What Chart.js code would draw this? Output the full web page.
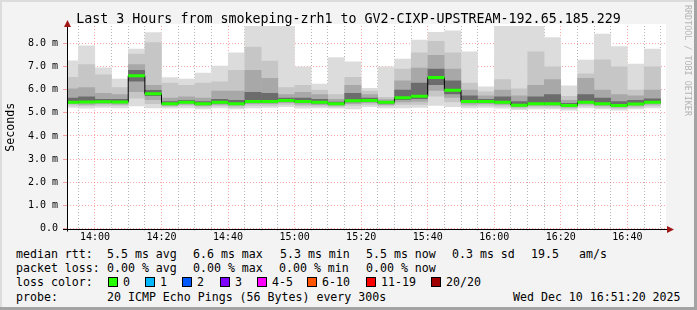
<!DOCTYPE html>
<html>
<head>
<meta charset="utf-8">
<script src="https://cdn.jsdelivr.net/npm/chart.js@4/dist/chart.umd.min.js"></script>
<style>
  body { margin: 0; }
  #frame {
    position: relative; width: 697px; height: 310px; overflow: hidden;
    background: #f3f3f3;
    box-shadow: inset -3px -3px 0 #a3a3a3, inset 2px 2px 0 #dcdcdc;
    font-family: "DejaVu Sans Mono", monospace; color: #000;
  }
  #plot { position: absolute; left: 0; top: 0; width: 697px; height: 246px; }
  .t { position: absolute; font-size: 11.6px; line-height: 14px; white-space: pre; }
  .box { position: absolute; width: 8px; height: 8px; border: 1px solid #000; }
  #title { position: absolute; left: 0; width: 697px; top: 11px; text-align: center; font-size: 13.3px; line-height: 16px; white-space: pre; }
  #rrd { position: absolute; left: 683px; top: 5px; writing-mode: vertical-rl; font-size: 8.4px; color: #b4b4b4; white-space: pre; }
</style>
</head>
<body>
<div id="frame">
  <div id="plot"><canvas id="chart"></canvas></div>
  <div id="title">Last 3 Hours from smokeping-zrh1 to GV2-CIXP-UPSTREAM-192.65.185.229</div>
  <div id="rrd">RRDTOOL / TOBI OETIKER</div>

  <span class="t" style="left:16px;top:247px">median rtt:</span>
  <span class="t" style="left:107px;top:247px">5.5 ms avg</span>
  <span class="t" style="left:193px;top:247px">6.6 ms max</span>
  <span class="t" style="left:280px;top:247px">5.3 ms min</span>
  <span class="t" style="left:366px;top:247px">5.5 ms now</span>
  <span class="t" style="left:452px;top:247px">0.3 ms sd</span>
  <span class="t" style="left:531px;top:247px">19.5</span>
  <span class="t" style="left:579px;top:247px">am/s</span>

  <span class="t" style="left:16px;top:261px">packet loss:</span>
  <span class="t" style="left:107px;top:261px">0.00 % avg</span>
  <span class="t" style="left:193px;top:261px">0.00 % max</span>
  <span class="t" style="left:279px;top:261px">0.00 % min</span>
  <span class="t" style="left:366px;top:261px">0.00 % now</span>

  <span class="t" style="left:16px;top:275px">loss color:</span>
  <div id="lossLegend"></div>

  <span class="t" style="left:16px;top:290px">probe:</span>
  <span class="t" style="left:107px;top:290px">20 ICMP Echo Pings (56 Bytes) every 300s</span>
  <span class="t" style="left:513px;top:290px">Wed Dec 10 16:51:20 2025</span>
</div>
<script>
// 5-minute slots (start time of each slot)
const slots = ['13:50','13:55','14:00','14:05','14:10','14:15','14:20','14:25','14:30',
  '14:35','14:40','14:45','14:50','14:55','15:00','15:05','15:10','15:15',
  '15:20','15:25','15:30','15:35','15:40','15:45','15:50','15:55','16:00',
  '16:05','16:10','16:15','16:20','16:25','16:30','16:35','16:40','16:45'];

// median rtt (ms)
const median = [5.46,5.47,5.48,5.47,6.60,5.82,5.39,5.46,5.39, 5.45,5.39,5.49,5.49,5.53,5.49,5.46,5.39,5.52,
  5.53,5.45,5.65,5.71,6.53,5.97,5.49,5.49,5.46, 5.33,5.39,5.39,5.32,5.46,5.39,5.32,5.38,5.46];

// smoke: sorted ping spread per slot (ms)
const pingMin = [5.22,5.18,5.22,5.20,5.28,5.20,5.18,5.20,5.15, 5.20,5.15,5.20,5.22,5.25,5.18,5.20,5.18,5.15,
  5.25,5.20,5.20,5.22,5.30,5.25,5.20,5.22,5.18, 5.12,5.15,5.15,5.10,5.20,5.15,5.10,5.15,5.20];
const pingMax = [7.26,7.91,6.96,6.47,7.77,8.48,6.54,6.47,6.73, 7.03,7.61,8.80,8.80,8.80,7.00,6.26,7.40,7.22,
  6.07,7.00,7.34,8.16,8.49,8.56,7.65,6.14,8.80, 8.80,8.80,8.26,6.18,7.29,8.42,7.87,7.12,7.77];
const p10 = [5.32,5.28,5.30,5.30,5.62,5.38,5.25,5.30,5.23, 5.28,5.22,5.30,5.30,5.35,5.28,5.27,5.24,5.30,
  5.35,5.28,5.35,5.35,5.70,5.45,5.28,5.30,5.27, 5.18,5.23,5.22,5.17,5.28,5.22,5.17,5.22,5.28];
const p90 = [6.55,7.10,6.65,6.10,7.55,8.05,6.30,6.20,6.30, 6.35,6.85,7.85,7.25,6.10,6.20,6.00,5.80,6.55,
  5.95,5.68,6.90,7.60,8.10,7.60,6.30,5.92,6.45, 6.05,7.65,7.00,5.72,6.70,7.30,7.00,6.00,7.00];
const p25 = [5.38,5.35,5.38,5.36,5.90,5.55,5.30,5.36,5.29, 5.35,5.30,5.38,5.38,5.42,5.36,5.34,5.30,5.38,
  5.42,5.34,5.45,5.48,5.95,5.65,5.36,5.38,5.35, 5.24,5.30,5.29,5.23,5.36,5.29,5.23,5.28,5.36];
const p75 = [6.05,6.10,5.85,5.80,7.10,6.20,5.65,5.70,5.65, 5.95,5.95,6.85,6.50,5.80,5.90,5.80,5.60,6.20,
  5.80,5.58,6.40,6.95,7.50,6.90,6.00,5.75,6.00, 5.75,6.20,6.45,5.55,6.50,6.00,5.80,5.75,6.00];
const p40 = [5.42,5.42,5.43,5.42,6.35,5.72,5.35,5.42,5.34, 5.40,5.35,5.44,5.44,5.48,5.43,5.40,5.34,5.46,
  5.48,5.40,5.55,5.60,6.20,5.80,5.42,5.44,5.41, 5.29,5.35,5.35,5.28,5.42,5.35,5.28,5.34,5.42];
const p60 = [5.65,5.70,5.60,5.60,6.85,5.98,5.50,5.55,5.50, 5.60,5.55,5.90,5.85,5.65,5.65,5.60,5.48,5.85,
  5.65,5.50,6.00,6.30,6.90,6.40,5.75,5.60,5.70, 5.50,5.70,5.80,5.42,5.80,5.65,5.50,5.55,5.62];

// y ticks (ms), x ticks (minutes after 14:00)
const yTicks = [0,0.5,1,1.5,2,2.5,3,3.5,4,4.5,5,5.5,6,6.5,7,7.5,8,8.5];
const xTicks = [-5,0,5,10,15,20,25,30,35,40,45,50,55,60,65,70,75,80,85,90,95,100,105,110,
  115,120,125,130,135,140,145,150,155,160,165,170];

const lossLabels = ['0','1','2','3','4-5','6-10','11-19','20/20'];
const lossColors = ['#26ff00','#00b8ff','#0059ff','#7e00ff','#ff00ff','#ff5500','#ff0000','#a00000'];
const lossX = [108,145,182,220,257,307,366,431];

const legendBox = document.getElementById('lossLegend');
lossLabels.forEach((lab, i) => {
  const b = document.createElement('span');
  b.className = 'box';
  b.style.left = lossX[i] + 'px'; b.style.top = '277px'; b.style.background = lossColors[i];
  legendBox.appendChild(b);
  const t = document.createElement('span');
  t.className = 't';
  t.style.left = (lossX[i] + 15) + 'px'; t.style.top = '275px';
  t.textContent = lab;
  legendBox.appendChild(t);
});

const toMin = s => { const [h, m] = s.split(':').map(Number); return (h - 14) * 60 + m; };
const fmt = v => { const t = 14 * 60 + v; return String(Math.floor(t / 60)) + ':' + String(t % 60).padStart(2, '0'); };

const band = (lo, hi) => slots.map((s, i) => ({ x: toMin(s) + 2.5, y: [lo[i], hi[i]] }));
const steps = slots.map((s, i) => ({ x: toMin(s), y: median[i] }));
steps.push({ x: toMin(slots[slots.length - 1]) + 5, y: median[median.length - 1] });

const barOpts = { type: 'bar', grouped: false, barPercentage: 1.02, categoryPercentage: 1, borderWidth: 0 };

const frameDeco = {
  id: 'frameDeco',
  beforeDraw(chart) {
    const { ctx, chartArea: a } = chart;
    ctx.save();
    ctx.fillStyle = '#ffffff';
    ctx.fillRect(a.left, a.top - 2, a.right - a.left, a.bottom - a.top + 2);
    ctx.restore();
  },
  afterDraw(chart) {
    const { ctx, chartArea: a } = chart;
    const yb = Math.round(a.bottom) + 0.5, xl = Math.round(a.left) + 0.5;
    ctx.save();
    ctx.strokeStyle = '#000'; ctx.lineWidth = 1;
    ctx.beginPath();
    ctx.moveTo(a.left - 4, yb); ctx.lineTo(a.right + 2, yb);
    ctx.moveTo(xl, a.bottom + 3); ctx.lineTo(xl, a.top - 2);
    ctx.stroke();
    ctx.fillStyle = '#a01818';
    ctx.beginPath();
    ctx.moveTo(a.right + 8, yb); ctx.lineTo(a.right + 1, yb - 3.5); ctx.lineTo(a.right + 1, yb + 3.5);
    ctx.closePath(); ctx.fill();
    ctx.beginPath();
    ctx.moveTo(xl, a.top - 6); ctx.lineTo(xl - 3.5, a.top + 1); ctx.lineTo(xl + 3.5, a.top + 1);
    ctx.closePath(); ctx.fill();
    ctx.restore();
  }
};

new Chart(document.getElementById('chart'), {
  type: 'bar',
  data: {
    datasets: [
      { type: 'line', data: slots.map((s, i) => ({ x: toMin(s) + 2.5, y: median[i] })), showLine: false,
        pointStyle: 'line', pointRadius: 8.33, pointHoverRadius: 8.33, pointBorderWidth: 3,
        pointBorderColor: '#26ff00', order: 0 },
      { type: 'line', data: steps, stepped: true, borderColor: '#000', borderWidth: 1,
        pointRadius: 0, fill: false, order: 1 },
      { ...barOpts, data: band(p40, p60), backgroundColor: '#6c6c6c', order: 2 },
      { ...barOpts, data: band(p25, p75), backgroundColor: '#a8a8a8', order: 3 },
      { ...barOpts, data: band(p10, p90), backgroundColor: '#c6c6c6', order: 4 },
      { ...barOpts, data: band(pingMin, pingMax), backgroundColor: '#dcdcdc', order: 5 }
    ]
  },
  options: {
    responsive: true,
    maintainAspectRatio: false,
    animation: false,
    layout: { padding: { left: 0, right: 31, top: 26, bottom: 0 } },
    plugins: { legend: { display: false }, tooltip: { enabled: false } },
    scales: {
      x: {
        type: 'linear', min: -8.4, max: 171.6, offset: false, z: 1,
        afterBuildTicks: s => { s.ticks = xTicks.map(v => ({ value: v })); },
        afterFit: s => { s.height = 17.5; },
        border: { display: false, dash: [1, 2] },
        grid: {
          offset: false, tickLength: 2,
          color: c => (c.tick && c.tick.value % 20 === 0) ? 'rgba(255,60,60,0.45)' : 'rgba(120,120,120,0.55)'
        },
        ticks: {
          autoSkip: false, maxRotation: 0, padding: 1, color: '#000',
          font: { family: 'DejaVu Sans Mono', size: 10 },
          callback: v => (v % 20 === 0 ? fmt(v) : '')
        }
      },
      y: {
        min: 0, max: 8.75, z: 1,
        afterBuildTicks: s => { s.ticks = yTicks.map(v => ({ value: v })); },
        afterFit: s => { s.width = 67; },
        border: { display: false, dash: [1, 2] },
        grid: {
          tickLength: 4,
          color: c => (c.tick && Number.isInteger(c.tick.value)) ? 'rgba(255,60,60,0.45)' : 'rgba(120,120,120,0.55)'
        },
        ticks: {
          padding: 5, color: '#000',
          font: { family: 'DejaVu Sans Mono', size: 10 },
          callback: v => (Number.isInteger(v) ? (v === 0 ? '0.0' : v.toFixed(1) + ' m') : '')
        },
        title: {
          display: true, text: 'Seconds', color: '#000',
          font: { family: 'DejaVu Sans Mono', size: 11.6 }
        }
      }
    }
  },
  plugins: [frameDeco]
});
</script>
</body>
</html>
